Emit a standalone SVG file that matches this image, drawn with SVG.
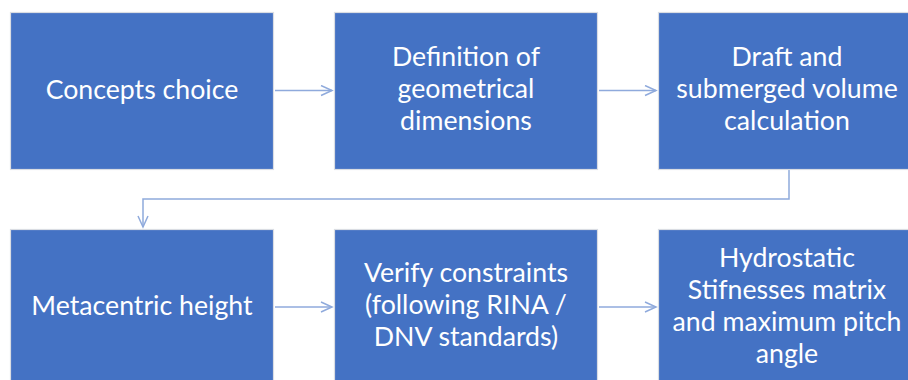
<svg xmlns="http://www.w3.org/2000/svg" width="908" height="380" viewBox="0 0 908 380">
<style>
.box{fill:#4472C4;stroke:#DADDE3;stroke-width:1.2}
.t{font-family:Lato,"Open Sans",sans-serif;font-size:26.7px;fill:#FFFFFF;text-anchor:middle}
.c{fill:none;stroke:#8FAADC;stroke-width:1.5}
</style>
<defs>
<marker id="a" markerWidth="14" markerHeight="12" refX="12" refY="6" orient="auto" markerUnits="userSpaceOnUse">
<path d="M1,1 L12,6 L1,11" fill="none" stroke="#8FAADC" stroke-width="1.5"/>
</marker>
</defs>
<rect width="908" height="380" fill="#FFFFFF"/>
<g id="connectors">
<line class="c" x1="275" y1="90.5" x2="332" y2="90.5" marker-end="url(#a)"/>
<line class="c" x1="599" y1="90.5" x2="656" y2="90.5" marker-end="url(#a)"/>
<polyline class="c" points="789,170 789,199 143,199 143,227" marker-end="url(#a)"/>
<line class="c" x1="275" y1="307" x2="332" y2="307" marker-end="url(#a)"/>
<line class="c" x1="599" y1="307" x2="656" y2="307" marker-end="url(#a)"/>
</g>
<g id="n1"><rect class="box" x="10.5" y="12.5" width="263" height="157"/>
<text class="t" x="142" y="99">Concepts choice</text></g>
<g id="n2"><rect class="box" x="334.5" y="12.5" width="263" height="157"/>
<text class="t" x="466" y="66">Definition of</text><text class="t" x="466" y="98">geometrical</text><text class="t" x="466" y="130">dimensions</text></g>
<g id="n3"><rect class="box" x="658.5" y="12.5" width="263" height="157"/>
<text class="t" x="787" y="66">Draft and</text><text class="t" x="787" y="98">submerged volume</text><text class="t" x="787" y="130">calculation</text></g>
<g id="n4"><rect class="box" x="10.5" y="229.5" width="263" height="157"/>
<text class="t" x="142" y="315">Metacentric height</text></g>
<g id="n5"><rect class="box" x="334.5" y="229.5" width="263" height="157"/>
<text class="t" x="466" y="282">Verify constraints</text><text class="t" x="466" y="314">(following RINA /</text><text class="t" x="466" y="346">DNV standards)</text></g>
<g id="n6"><rect class="box" x="658.5" y="229.5" width="263" height="157"/>
<text class="t" x="787" y="267">Hydrostatic</text><text class="t" x="787" y="299">Stifnesses matrix</text><text class="t" x="787" y="331">and maximum pitch</text><text class="t" x="787" y="363">angle</text></g>
</svg>
